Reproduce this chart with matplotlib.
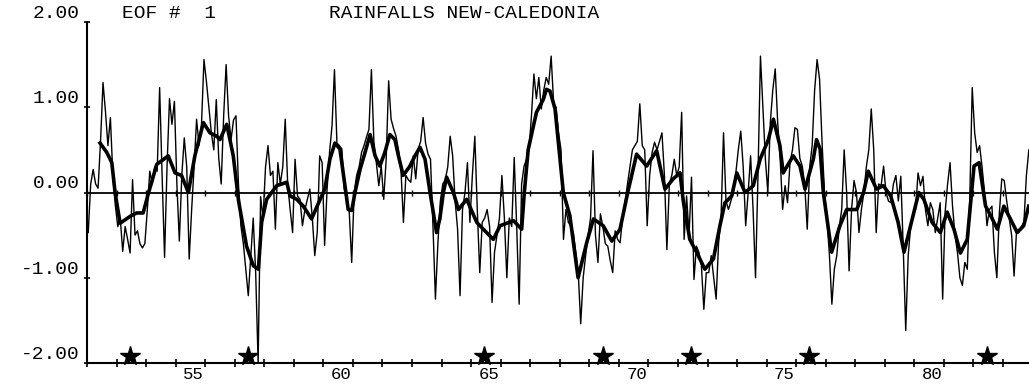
import numpy as np
import matplotlib
matplotlib.use("Agg")
import matplotlib.pyplot as plt

plt.rcParams['font.family'] = ['Liberation Mono', 'DejaVu Sans Mono']

# ---- monthly EOF #1 amplitude (thin line), one list per year ----
y1952 = [-0.47, 0.1, 0.27, 0.1, 0.05, 0.6, 1.29, 0.95, 0.55, 0.88, 0.2, -0.15]
y1953 = [-0.4, -0.3, -0.69, -0.4, -0.55, -0.71, 0.15, -0.5, -0.45, -0.6, -0.65, -0.6]
y1954 = [-0.2, 0.25, 0.1, 0.3, 0.25, 1.23, 0.2, -0.76, 0.3, 1.1, 0.8, 1.07]
y1955 = [0.1, -0.57, 0.2, 0.64, 0.3, -0.78, -0.2, 0.3, 0.86, 0.55, 0.8, 1.56]
y1956 = [1.3, 1.0, 0.7, 0.5, 1.09, 0.4, 0.1, 0.9, 1.5, 0.9, 0.62, 0.85]
y1957 = [0.9, 0.1, -0.39, -0.6, -0.9, -1.21, -0.75, -0.3, -0.94, -2.0, -0.05, -0.3]
y1958 = [0.3, 0.55, 0.2, 0.25, -0.43, 0.35, 0.1, 0.3, 0.86, 0.1, -0.2, -0.47]
y1959 = [0.39, -0.04, -0.08, -0.39, -0.2, -0.08, 0.04, -0.3, -0.74, -0.47, 0.43, 0.35]
y1960 = [-0.62, 0.04, 0.47, 0.78, 1.44, 0.58, 0.55, 0.51, 0.04, -0.1, -0.23, -0.82]
y1961 = [0.0, 0.2, 0.3, 0.47, 0.55, 0.65, 0.74, 1.44, 0.6, 0.35, 0.08, 0.31]
y1962 = [-0.08, 0.39, 1.31, 0.86, 0.75, 0.66, 0.5, 0.27, -0.35, 0.2, 0.15, 0.12]
y1963 = [0.43, 0.16, 0.51, 0.6, 0.88, 0.58, 0.45, 0.39, -0.39, -1.25, -0.6, -0.1]
y1964 = [0.1, 0.15, 0.3, 0.66, 0.43, -0.1, -0.43, -1.21, -0.2, 0.0, 0.35, -0.35]
y1965 = [0.2, 0.66, -0.2, -0.94, -0.35, -0.3, -0.2, -0.4, -1.29, -0.7, -0.5, -0.3]
y1966 = [0.2, -0.3, -1.0, -0.3, -0.4, 0.41, -0.4, -1.31, 0.1, 0.31, 0.39, 0.5]
y1967 = [0.9, 1.39, 1.1, 1.35, 0.98, 1.2, 1.35, 1.27, 1.6, 1.05, 1.0, 0.7]
y1968 = [0.5, -0.55, -0.2, -0.35, -0.4, -0.47, -0.7, -0.94, -1.54, -1.0, -0.74, -0.5]
y1969 = [-0.3, 0.49, -0.5, -0.82, -0.25, -0.4, -0.6, -0.63, -0.8, -0.94, -0.45, -0.55]
y1970 = [-0.59, -0.3, -0.12, 0.1, 0.3, 0.5, 0.55, 0.6, 1.04, 0.55, 0.5, -0.39]
y1971 = [0.2, 0.47, 0.59, 0.5, 0.6, 0.7, 0.2, -0.67, 0.1, 0.2, 0.39, 0.2]
y1972 = [0.3, 0.94, -0.55, -0.04, -0.5, 0.18, -1.02, -0.63, -0.7, -0.85, -1.37, -0.94]
y1973 = [-0.94, -0.74, -1.0, -1.25, -0.59, -0.3, 0.7, -0.1, -0.2, -0.1, 0.0, 0.23]
y1974 = [0.5, 0.72, 0.3, -0.39, 0.0, 0.43, -0.2, -1.0, 0.2, 1.6, 1.0, 0.39]
y1975 = [0.0, 0.82, 1.2, 1.45, 0.82, 0.4, -0.2, 0.08, -0.12, 0.35, 0.5, 0.76]
y1976 = [0.74, 0.4, 0.31, 0.08, -0.43, 0.3, 0.55, 1.2, 1.56, 1.33, 0.6, 0.0]
y1977 = [-0.3, -0.73, -1.31, -0.9, -0.74, -0.4, -0.2, 0.5, 0.0, -0.92, -0.2, 0.14]
y1978 = [0.0, -0.47, -0.2, 0.0, 0.3, 0.5, 0.98, 0.5, -0.47, 0.1, 0.08, 0.31]
y1979 = [0.0, -0.1, -0.12, 0.1, 0.2, -0.1, 0.19, -0.66, -1.62, -0.74, -0.4, -0.27]
y1980 = [-0.2, 0.23, 0.08, 0.19, -0.2, -0.39, -0.12, -0.2, -0.47, -0.3, -0.12, -1.25]
y1981 = [-0.23, 0.1, 0.35, -0.16, -0.5, -0.7, -1.0, -1.09, -0.82, -0.9, -0.08, 1.23]
y1982 = [0.7, 0.47, 0.55, 0.3, 0.0, -0.39, -0.2, -0.16, -0.7, -1.0, -0.25, 0.16]
y1983 = [0.14, -0.1, -0.3, -0.5, -0.98, -0.45, -0.45, -0.4, -0.35, 0.2, 0.5]

first_year = 1952

# ---- smoothed amplitude (thick line): decimal year / value ----
smooth_t = [1952.44, 1952.67, 1952.84, 1952.95, 1953.12, 1953.46, 1953.68, 1953.9, 1954.07,
            1954.36, 1954.75, 1954.98, 1955.2, 1955.43, 1955.65, 1955.94, 1956.16, 1956.39,
            1956.5, 1956.73, 1956.95, 1957.13, 1957.4, 1957.63, 1957.8, 1957.91, 1958.08,
            1958.42, 1958.76, 1958.87, 1959.10, 1959.32, 1959.60, 1959.89, 1960.05, 1960.22,
            1960.39, 1960.56, 1960.67, 1960.84, 1960.96, 1961.07, 1961.24, 1961.41, 1961.58,
            1961.75, 1961.91, 1962.08, 1962.25, 1962.42, 1962.54, 1962.70, 1962.93, 1963.10,
            1963.27, 1963.44, 1963.61, 1963.83, 1963.94, 1964.06, 1964.17,
            1964.4, 1964.57, 1964.85, 1965.19, 1965.41, 1965.75, 1965.98, 1966.43, 1966.71,
            1966.8, 1966.93, 1967.21, 1967.44, 1967.55, 1967.67, 1967.84, 1968.01, 1968.12,
            1968.34, 1968.62, 1968.91, 1969.14, 1969.47, 1969.76, 1970.04, 1970.3, 1970.6,
            1970.94, 1971.28, 1971.56, 1971.84, 1972.07, 1972.18, 1972.4, 1972.63, 1972.91,
            1973.2, 1973.42, 1973.59, 1973.82, 1973.99, 1974.27, 1974.55, 1974.78, 1975.06,
            1975.23, 1975.45, 1975.56, 1975.9, 1976.13, 1976.3, 1976.58, 1976.69, 1976.81,
            1976.92, 1977.2, 1977.48, 1977.71, 1978.05, 1978.28, 1978.44, 1978.72, 1978.95,
            1979.2, 1979.45, 1979.65, 1979.87, 1980.15, 1980.32, 1980.6, 1980.88, 1981.11,
            1981.34, 1981.56, 1981.79, 1982.02, 1982.19, 1982.41, 1982.58, 1982.81, 1983.03,
            1983.25, 1983.48, 1983.7, 1983.87]
smooth_v = [0.58, 0.47, 0.35, 0.0, -0.36, -0.28, -0.24, -0.24, -0.02,
            0.33, 0.43, 0.23, 0.2, 0.0, 0.43, 0.82, 0.7, 0.66,
            0.62, 0.8, 0.43, -0.1, -0.63, -0.86, -0.9, -0.35, -0.08,
            0.08, 0.12, -0.04, -0.08, -0.16, -0.31, -0.08, 0.04, 0.39,
            0.58, 0.51, 0.23, -0.2, -0.21, 0.0, 0.27, 0.47, 0.68,
            0.43, 0.31, 0.47, 0.68, 0.62, 0.43, 0.2, 0.31, 0.43,
            0.53, 0.39, 0.0, -0.47, -0.31, 0.0, 0.18,
            0.0, -0.2, -0.08, -0.35, -0.43, -0.55, -0.39, -0.33, -0.43,
            0.0, 0.5, 0.94, 1.09, 1.21, 1.19, 0.98, 0.39, 0.0,
            -0.27, -1.0, -0.59, -0.31, -0.39, -0.57, -0.43, 0.0, 0.45,
            0.31, 0.49, 0.04, 0.16, 0.23, -0.1, -0.55, -0.7, -0.9,
            -0.78, -0.39, -0.12, -0.04, 0.23, 0.0, 0.08, 0.39, 0.62,
            0.86, 0.55, 0.23, 0.43, 0.31, 0.04, 0.39, 0.62, 0.51,
            0.0, -0.7, -0.39, -0.2, -0.2, 0.0, 0.25, 0.04, 0.08,
            -0.04, -0.35, -0.7, -0.39, 0.0, -0.08, -0.35, -0.47, -0.23,
            -0.43, -0.71, -0.55, 0.31, 0.35, -0.16, -0.27, -0.43, -0.16,
            -0.31, -0.47, -0.39, -0.16]

# El Nino years marked with stars
nino_years = [1953, 1957, 1965, 1969, 1972, 1976, 1982]

# axis labels
x_label_years = [1955, 1960, 1965, 1970, 1975, 1980]
x_label_text = ['55', '60', '65', '70', '75', '80']
y_tick_vals = [-2, -1, 0, 1, 2]
y_tick_text = ['-2.00', '-1.00', '0.00', '1.00', '2.00']
title_left = 'EOF #  1'
title_main = 'RAINFALLS NEW-CALEDONIA'

# ---------------------------------------------------------------
monthly = np.concatenate([y1952, y1953, y1954, y1955, y1956, y1957, y1958, y1959,
                          y1960, y1961, y1962, y1963, y1964, y1965, y1966, y1967,
                          y1968, y1969, y1970, y1971, y1972, y1973, y1974, y1975,
                          y1976, y1977, y1978, y1979, y1980, y1981, y1982, y1983])
t_month = first_year + (np.arange(len(monthly)) + 0.5) / 12.0

W, H = 1029, 390
fig = plt.figure(figsize=(W / 100, H / 100), dpi=100)
ax = fig.add_axes([87 / W, 27 / H, 942 / W, 341 / H])
ax.set_xlim(1952, 1983.88)
ax.set_ylim(-2, 2)

ax.axhline(0, color='black', lw=1.3, zorder=1)
ax.plot(t_month, monthly, color='black', lw=1.0, zorder=2)
ax.plot(smooth_t, smooth_v, color='black', lw=2.6, zorder=3, solid_joinstyle='round')

year_bounds = np.arange(1952, 1984)
ax.plot(year_bounds, np.zeros(len(year_bounds)), ls='none', marker='|',
        ms=4, mew=1.0, color='black', zorder=2)

ax.plot(np.array(nino_years) + 0.45, np.full(len(nino_years), -1.92), ls='none',
        marker='*', ms=15, color='black', zorder=4, clip_on=False)

for s in ['top', 'right']:
    ax.spines[s].set_visible(False)
for s in ['left', 'bottom']:
    ax.spines[s].set_linewidth(1.5)

ax.set_xticks(year_bounds)
ax.set_xticklabels([])
ax.set_xticks(np.array(x_label_years) + 0.6, minor=True)
ax.set_xticklabels(x_label_text, minor=True)
ax.tick_params(axis='x', which='major', direction='inout', length=6, width=1.2)
ax.tick_params(axis='x', which='minor', length=0, pad=3, labelsize=12.5)

ax.set_yticks(y_tick_vals)
ax.set_yticklabels(y_tick_text)
ax.tick_params(axis='y', direction='inout', length=4, width=1.2, pad=3, labelsize=14)
for lbl in ax.get_yticklabels():
    lbl.set_verticalalignment('bottom')

ax.text(0.087, 1.0, title_left, transform=ax.transAxes, ha='center', va='bottom',
        fontsize=14)
ax.text(0.40, 1.0, title_main, transform=ax.transAxes, ha='center', va='bottom',
        fontsize=14)

fig.savefig('out.png', dpi=100)
